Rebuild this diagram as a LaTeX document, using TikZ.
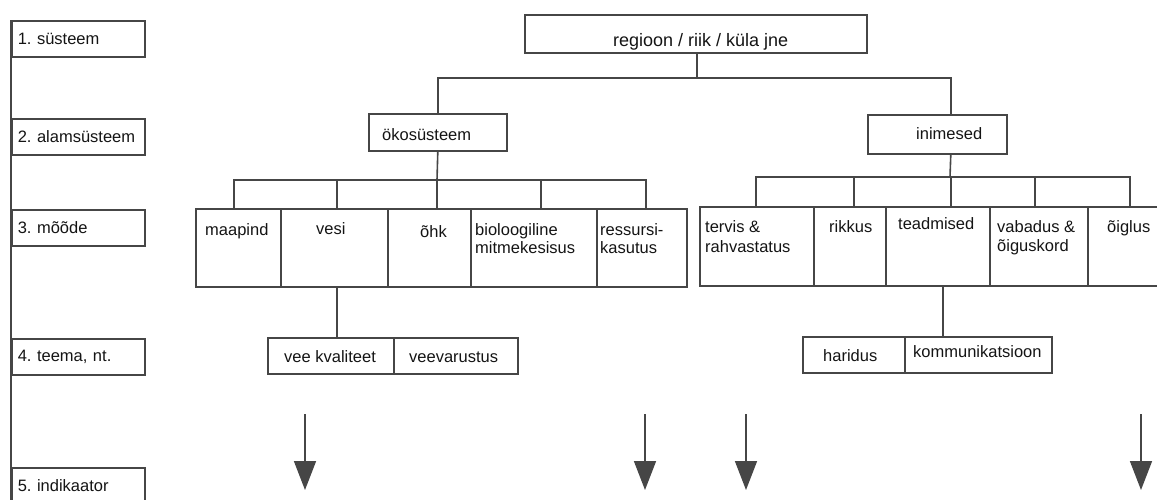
\documentclass[tikz,border=0pt]{standalone}
\usepackage{fontspec}
\setmainfont{Liberation Sans}
\usetikzlibrary{arrows.meta}
\definecolor{linegray}{RGB}{70,70,70}
\definecolor{textblack}{RGB}{20,20,20}
\frenchspacing

\begin{document}
\begin{tikzpicture}[x=1pt,y=-1pt,font=\fontsize{16.5}{18}\selectfont]

%
% Styles
%
\tikzstyle{box}   = [draw=linegray,line width=1.6pt,inner sep=0pt,anchor=north west]
\tikzstyle{lvl}   = [box,text=textblack,text width=121pt,inner xsep=6pt,minimum height=36pt,align=left]
\tikzstyle{txt}   = [text=textblack,inner sep=0pt,anchor=base west,align=left]
\tikzstyle{conn}  = [draw=linegray,line width=1.6pt]
\tikzstyle{down}  = [conn,-{Triangle[width=22pt,length=29pt]}]

\useasboundingbox (0,0) rectangle (1157,499);
\clip (0,0) rectangle (1157,499);

% levels
\node[lvl] (sys) at (11,20)  {1. süsteem};
\node[lvl] (sub) at (11,118) {2. alamsüsteem};
\node[lvl] (dim) at (11,209) {3. mõõde};
\node[lvl] (thm) at (11,338) {4. teema, nt.};
\node[lvl] (ind) at (11,467) {5. indikaator};
\draw[conn] (sys.north west) -- (ind.south west);

% system
\node[box,minimum width=342pt,minimum height=38pt] (region) at (524,14) {};
\node[txt,font=\fontsize{18}{20}\selectfont] (t-region) at (613,46) {regioon / riik / küla jne};

% subsystems
\node[box,minimum width=138pt,minimum height=37pt] (oko) at (368,113) {};
\node[box,minimum width=139pt,minimum height=39pt] (ini) at (867,114) {};
\node[txt] (t-oko) at (382,140) {ökosüsteem};
\node[txt] (t-ini) at (916,139) {inimesed};

\coordinate (top-split) at (697,78);
\draw[conn] (region.south -| top-split) -- (top-split);
\draw[conn] (oko.north) |- (top-split) -| ([xshift=13.5]ini.north);

% dimensions, ecosystem
\node[box,minimum width=85pt,minimum height=78pt]  (maapind)  at (195,208) {};
\node[box,minimum width=107pt,minimum height=78pt] (vesi)     at (280,208) {};
\node[box,minimum width=83pt,minimum height=78pt]  (ohk)      at (387,208) {};
\node[box,minimum width=126pt,minimum height=78pt] (bio)      at (470,208) {};
\node[box,minimum width=90pt,minimum height=78pt]  (ressursi) at (596,208) {};

% two-line labels sit on the baseline of their last line
\node[txt] (t-maapind)  at (205,235) {maapind};
\node[txt] (t-vesi)     at (316,234) {vesi};
\node[txt] (t-ohk)      at (420,237) {õhk};
\node[txt] (t-bio)      at (475,253) {bioloogiline\\mitmekesisus};
\node[txt] (t-ressursi) at (600,253) {ressursi-\\kasutus};

\coordinate (eco-split) at (437,180);
\draw[conn] (oko.south) -- (eco-split);
\draw[conn] ([xshift=-4.5]maapind.north) |- (eco-split) -| ([xshift=4]ressursi.north);
\foreach \b/\s in {vesi/2.5, ohk/7.5, bio/7}
  \draw[conn] ([xshift=\s]\b.north) -- ([xshift=\s]\b.north |- eco-split);

% dimensions, people
\node[box,minimum width=114pt,minimum height=79pt] (tervis)    at (699,206) {};
\node[box,minimum width=72pt,minimum height=79pt]  (rikkus)    at (813,206) {};
\node[box,minimum width=104pt,minimum height=79pt] (teadmised) at (885,206) {};
\node[box,minimum width=98pt,minimum height=79pt]  (vabadus)   at (989,206) {};
\node[box,minimum width=84pt,minimum height=79pt]  (oiglus)    at (1087,206) {};

\node[txt] (t-tervis)    at (705,252)  {tervis \&\\[2pt]rahvastatus};
\node[txt] (t-rikkus)    at (829,232)  {rikkus};
\node[txt] (t-teadmised) at (898,229)  {teadmised};
\node[txt] (t-vabadus)   at (997,251)  {vabadus \&\\[1pt]õiguskord};
\node[txt] (t-oiglus)    at (1107,232) {õiglus};

\coordinate (hum-split) at (950,177);
\draw[conn] ([xshift=13.5]ini.south) -- (hum-split);
\draw[conn] ([xshift=-1]tervis.north) |- (hum-split) -| (oiglus.north);
\foreach \b/\s in {rikkus/4, teadmised/13, vabadus/-4}
  \draw[conn] ([xshift=\s]\b.north) -- ([xshift=\s]\b.north |- hum-split);

% themes
\node[box,minimum width=126pt,minimum height=36pt] (kval)    at (267,337) {};
\node[box,minimum width=124pt,minimum height=36pt] (varu)    at (393,337) {};
\node[box,minimum width=102pt,minimum height=36pt] (haridus) at (802,336) {};
\node[box,minimum width=147pt,minimum height=36pt] (komm)    at (904,336) {};

\node[txt] (t-kval)    at (284,362) {vee kvaliteet};
\node[txt] (t-varu)    at (409,362) {veevarustus};
\node[txt] (t-haridus) at (823,361) {haridus};
\node[txt] (t-komm)    at (913,357) {kommunikatsioon};

\draw[conn] ([xshift=2.5]vesi.south) -- ([xshift=2.5]vesi.south |- kval.north);
\draw[conn] ([xshift=5]teadmised.south) -- ([xshift=5]teadmised.south |- komm.north);

% indicators
\foreach \n/\x in {a/305, b/645, c/746, d/1141} {
  \coordinate (from-\n) at (\x,414);
  \coordinate (to-\n)   at (\x,490);
  \draw[down] (from-\n) -- (to-\n);
}

\end{tikzpicture}
\end{document}
